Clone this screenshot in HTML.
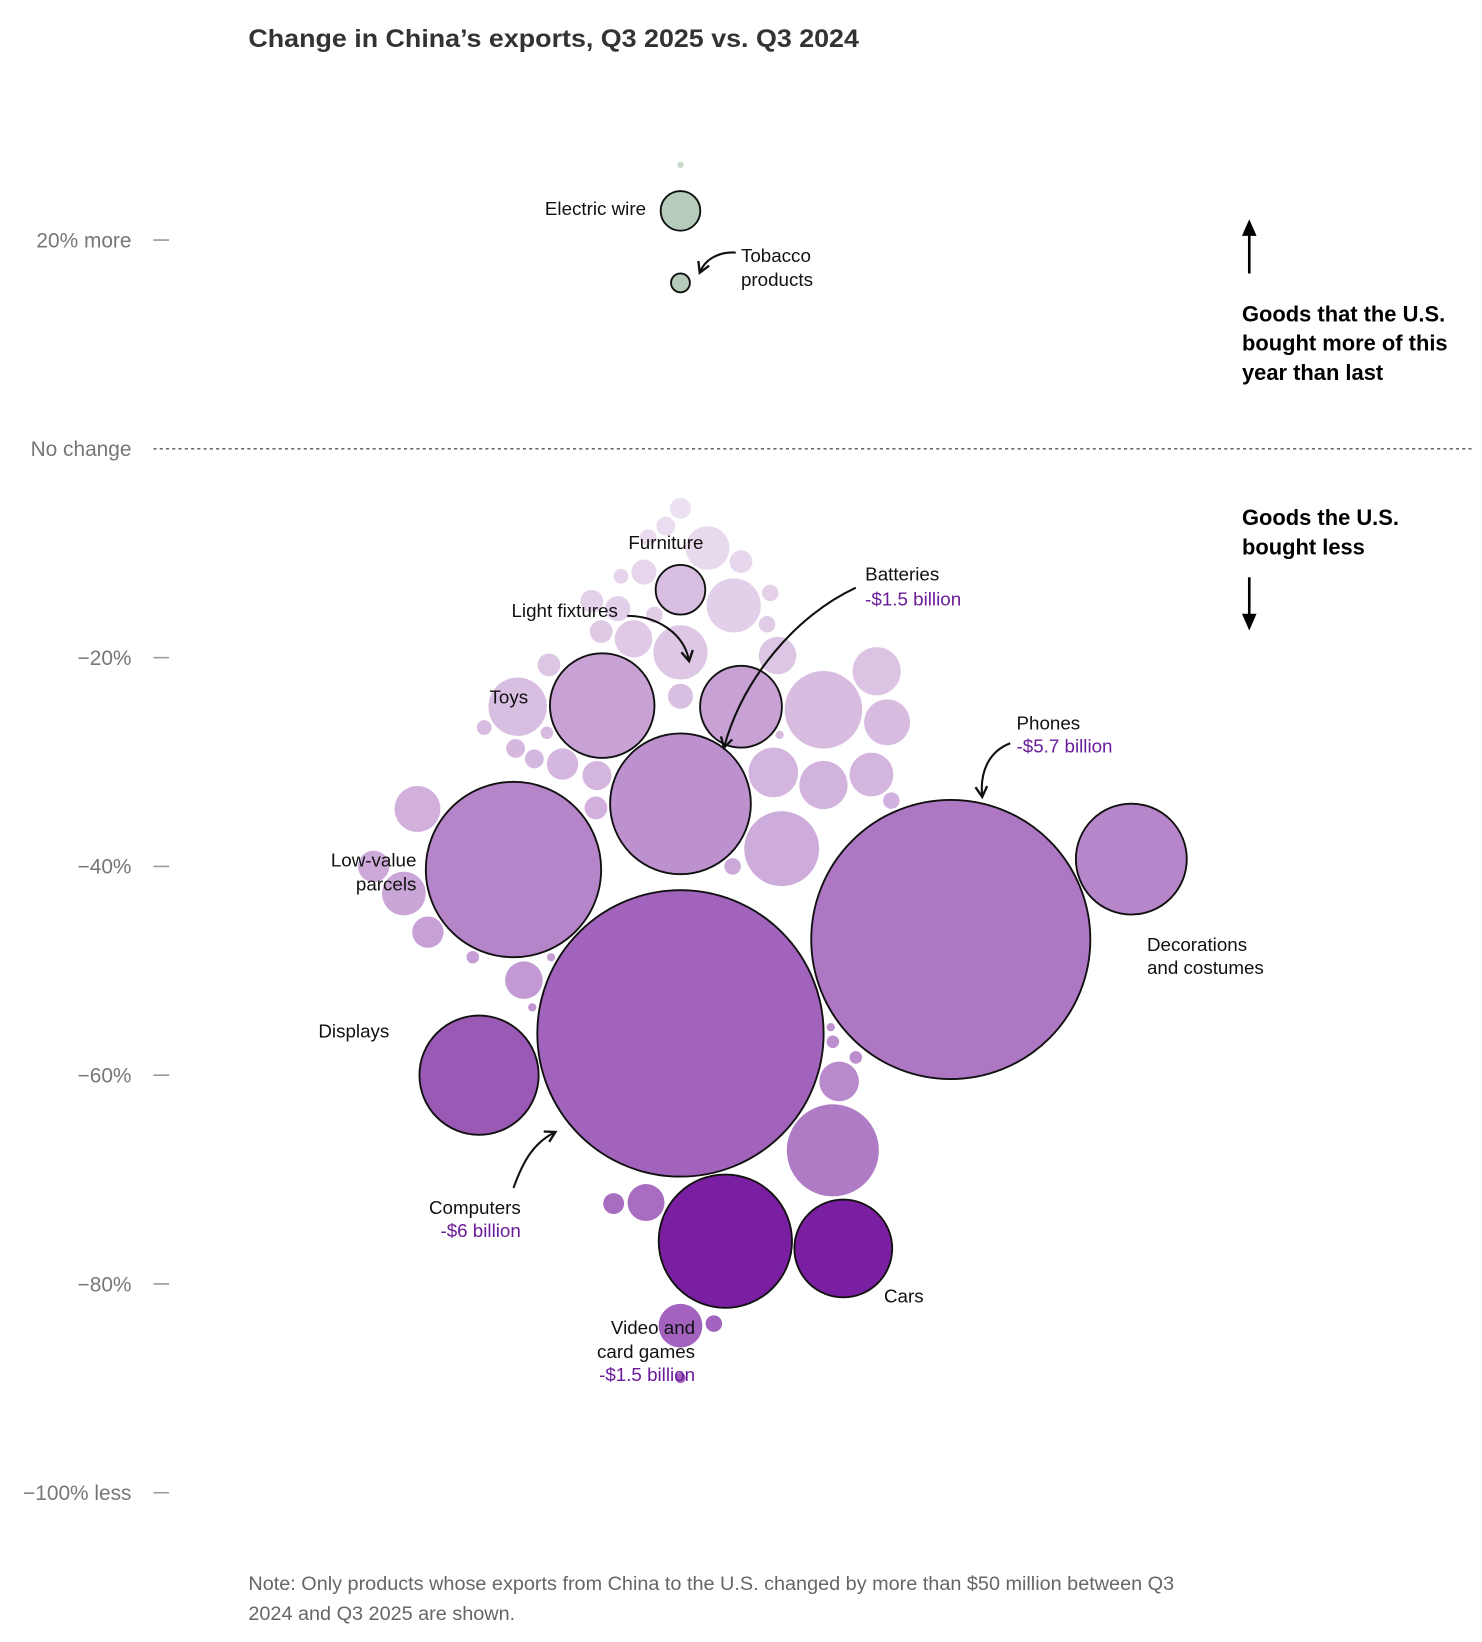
<!DOCTYPE html>
<html><head><meta charset="utf-8"><style>
html,body{margin:0;padding:0;background:#fff;}
svg{display:block;}
text{font-family:"Liberation Sans",sans-serif;}
</style></head><body>
<svg id="chart" width="1482" height="1642" viewBox="0 0 1420 1573" preserveAspectRatio="none" xmlns="http://www.w3.org/2000/svg">
<text x="238" y="45" font-size="24" font-weight="bold" fill="#333" textLength="585" lengthAdjust="spacingAndGlyphs">Change in China’s exports, Q3 2025 vs. Q3 2024</text>
<g id="axis"></g>
<line x1="147" y1="430" x2="1410" y2="430" stroke="#555" stroke-width="1.3" stroke-dasharray="3,3"/>
<g id="bubbles"></g>
<g id="labels"></g>
<g>
<line x1="1197" y1="262" x2="1197" y2="222" stroke="#000" stroke-width="2.5"/>
<polygon points="1190,226 1197,210 1204,226" fill="#000"/>
<text x="1190" y="308" font-size="21" font-weight="bold" fill="#000">Goods that the U.S.</text>
<text x="1190" y="336" font-size="21" font-weight="bold" fill="#000">bought more of this</text>
<text x="1190" y="364" font-size="21" font-weight="bold" fill="#000">year than last</text>
</g>
<g>
<text x="1190" y="503" font-size="21" font-weight="bold" fill="#000">Goods the U.S.</text>
<text x="1190" y="531" font-size="21" font-weight="bold" fill="#000">bought less</text>
<line x1="1197" y1="553" x2="1197" y2="592" stroke="#000" stroke-width="2.5"/>
<polygon points="1190,588 1197,604 1204,588" fill="#000"/>
</g>
<text x="238" y="1523" font-size="19" fill="#666">Note: Only products whose exports from China to the U.S. changed by more than $50 million between Q3</text>
<text x="238" y="1552" font-size="19" fill="#666">2024 and Q3 2025 are shown.</text>
</svg>
<script>
// ---- data ----
const tickValues = [20, 0, -20, -40, -60, -80, -100];
const tickLabels = ["20% more", "No change", "\u221220%", "\u221240%", "\u221260%", "\u221280%", "\u2212100% less"];
const names = ["Computers","Phones","Low-value parcels","Displays","Video and card games","Cars","Decorations and costumes","Batteries","Light fixtures","Toys","Furniture","Electric wire","Tobacco products"];
const pcts = [-56, -47, -40.3, -60, -75.9, -76.6, -39.3, -34, -24.7, -24.6, -13.5, 22.8, 15.9];
const billions = [6.0, 5.7, 2.25, 1.04, 1.3, 0.7, 0.9, 1.45, 0.49, 0.8, 0.18, 0.115, 0.026];
const sides = [0, 1, -1, -1, 1, 1, 1, 0, 1, -1, 0, 0, 0];
const otherPcts = [-67.2,-60.6,-72.2,-84,-72.3,-83.8,-89,-38.3,-32.2,-31,-34.5,-42.6,-31.2,-31.3,-30.2,-26.2,-25,-21.3,-15,-19.5,-19.8,-24.7,-40,-50.9,-46.3,-48.7,-34.4,-29.7,-23.7,-17.5,-14.6,-9.5,-5.7,-7.4,-15.3,-10.8,-12.2,-11.8,-18.2,-20.7,-16.8,-15.9,-13.8,-8.5,-33.7,-26.7,-40,-27.4,-28.7,-56.8,-58.3,-55.4,-53.5,-48.7,-27.2,27.2];
const otherBillions = [0.62,0.115,0.1,0.14,0.032,0.02,0.008,0.41,0.17,0.18,0.154,0.14,0.14,0.062,0.072,0.154,0.44,0.17,0.215,0.215,0.103,0.25,0.072,0.103,0.072,0.0115,0.038,0.026,0.046,0.038,0.038,0.14,0.032,0.026,0.046,0.038,0.016,0.046,0.103,0.038,0.02,0.02,0.02,0.02,0.02,0.016,0.02,0.005,0.026,0.0115,0.0115,0.005,0.005,0.005,0.0115,0.003];
// ---- scales ----
const y = v => 430 - 10 * v;
const rad = b => 56 * Math.sqrt(b);
function hex(c){return [1,3,5].map(i=>parseInt(c.substr(i,2),16));}
const stops=[[0,"#ece3f0"],[0.3,"#c9a3d5"],[0.6,"#ad75c3"],[0.72,"#9f5fb9"],[0.8,"#9550b0"],[0.95,"#7b1fa2"],[1,"#7b1fa2"]];
function color(p){
  if(p>0) return "#b6cbb9";
  const t=Math.min(1,Math.max(0,-p/80));
  for(let i=1;i<stops.length;i++){ if(t<=stops[i][0]){ const a=stops[i-1],b=stops[i]; const u=(t-a[0])/(b[0]-a[0]||1); const A=hex(a[1]),B=hex(b[1]); return "rgb("+A.map((v,k)=>Math.round(v+(B[k]-v)*u)).join(",")+")"; } }
  return stops[stops.length-1][1];
}
const NS="http://www.w3.org/2000/svg";
function mk(tag,attrs,parent){const e=document.createElementNS(NS,tag);for(const k in attrs)e.setAttribute(k,attrs[k]);parent.appendChild(e);return e;}
// axis
const axis=document.getElementById('axis');
tickValues.forEach((v,i)=>{
  const t=mk('text',{x:126,y:y(v)+7,'text-anchor':'end','font-size':20,fill:'#777'},axis);
  
  
  t.textContent=tickLabels[i];
  if(v!==0){const l=mk('line',{x1:147,x2:162,y1:y(v),y2:y(v),stroke:'#999','stroke-width':1.5},axis);
    
    }
});
// build items: labeled in given order, then unlabeled by size
const labeled=names.map((n,i)=>({name:n,p:pcts[i],r:rad(billions[i]),lab:true,side:sides[i]}));
const others=otherPcts.map((p,i)=>({name:'other',p:p,r:rad(otherBillions[i]),lab:false,side:0})).sort((a,b)=>b.r-a.r);
const items=labeled.concat(others);
// greedy packing
const cx=652, placed=[];
items.forEach(it=>{
  const yy=y(it.p);
  const ok=x=>placed.every(q=>Math.hypot(q.x-x,q.y-yy)>=q.r+it.r+2.5);
  let x=null;
  for(let d=0;d<900&&x===null;d++){
    if(it.side>=0&&ok(cx+d)){x=cx+d;break;}
    if(it.side<=0&&ok(cx-d)){x=cx-d;break;}
  }
  if(x===null)x=cx;
  it.x=x;it.y=yy;placed.push(it);
});
const g=document.getElementById('bubbles');
items.forEach(it=>{
  const c=mk('circle',{cx:it.x,cy:it.y,r:it.r,fill:color(it.p)},g);
  if(it.lab){c.setAttribute('stroke','#111');c.setAttribute('stroke-width',1.8);}
  else c.setAttribute('opacity',0.7);
  
  
});
// labels: relative to bubble center
const L=document.getElementById('labels');
const byName={};items.forEach(it=>{if(it.lab)byName[it.name]=it;});
const ann=[
 ["Electric wire",[["Electric wire",-33,4,"end",0]]],
 ["Tobacco products",[["Tobacco",58,-20,"start",0],["products",58,3,"start",0]],"M 53 -29 C 40 -30 25 -25 19 -11"],
 ["Furniture",[["Furniture",22,-39,"end",0]]],
 ["Light fixtures",[["Light fixtures",-118,-86,"end",0]],"M -109 -87 C -80 -87 -55 -70 -50 -45"],
 ["Toys",[["Toys",-71,-2,"end",0]]],
 ["Batteries",[["Batteries",177,-214,"start",0],["-$1.5 billion",177,-190,"start",1]],"M 168 -207 C 110 -180 60 -120 42 -55"],
 ["Low-value parcels",[["Low-value",-93,-3,"end",0],["parcels",-93,20,"end",0]]],
 ["Phones",[["Phones",63,-201,"start",0],["-$5.7 billion",63,-179,"start",1]],"M 57 -188 C 36 -180 28 -160 30 -138"],
 ["Decorations and costumes",[["Decorations",15,88,"start",0],["and costumes",15,110,"start",0]]],
 ["Displays",[["Displays",-86,-36,"end",0]]],
 ["Computers",[["Computers",-153,173,"end",0],["-$6 billion",-153,195,"end",1]],"M -160 148 C -150 120 -140 105 -121 95"],
 ["Video and card games",[["Video and",-29,89,"end",0],["card games",-29,112,"end",0],["-$1.5 billion",-29,134,"end",1]]],
 ["Cars",[["Cars",39,52,"start",0]]]
];
ann.forEach(a=>{
  const b=byName[a[0]]; if(!b) return;
  a[1].forEach(t=>{
    const e=mk('text',{x:b.x+t[1],y:b.y+t[2],'text-anchor':t[3],'font-size':18,fill:t[4]?'#6a1b9a':'#111'},L);
    
    
    e.textContent=t[0];
  });
  if(a[2]){
    const p=mk('path',{d:a[2],transform:'translate('+b.x+','+b.y+')',fill:'none',stroke:'#111','stroke-width':2,'marker-end':'url(#ah)'},L);
    
    
  }
});
const defs=mk('defs',{},document.getElementById('chart'));
const m=mk('marker',{id:'ah',viewBox:'0 0 10 10',refX:7,refY:5,markerWidth:7,markerHeight:7,orient:'auto-start-reverse'},defs);
mk('path',{d:'M 1 1 L 8 5 L 1 9',fill:'none',stroke:'#111','stroke-width':1.6},m);
</script>
</body></html>
